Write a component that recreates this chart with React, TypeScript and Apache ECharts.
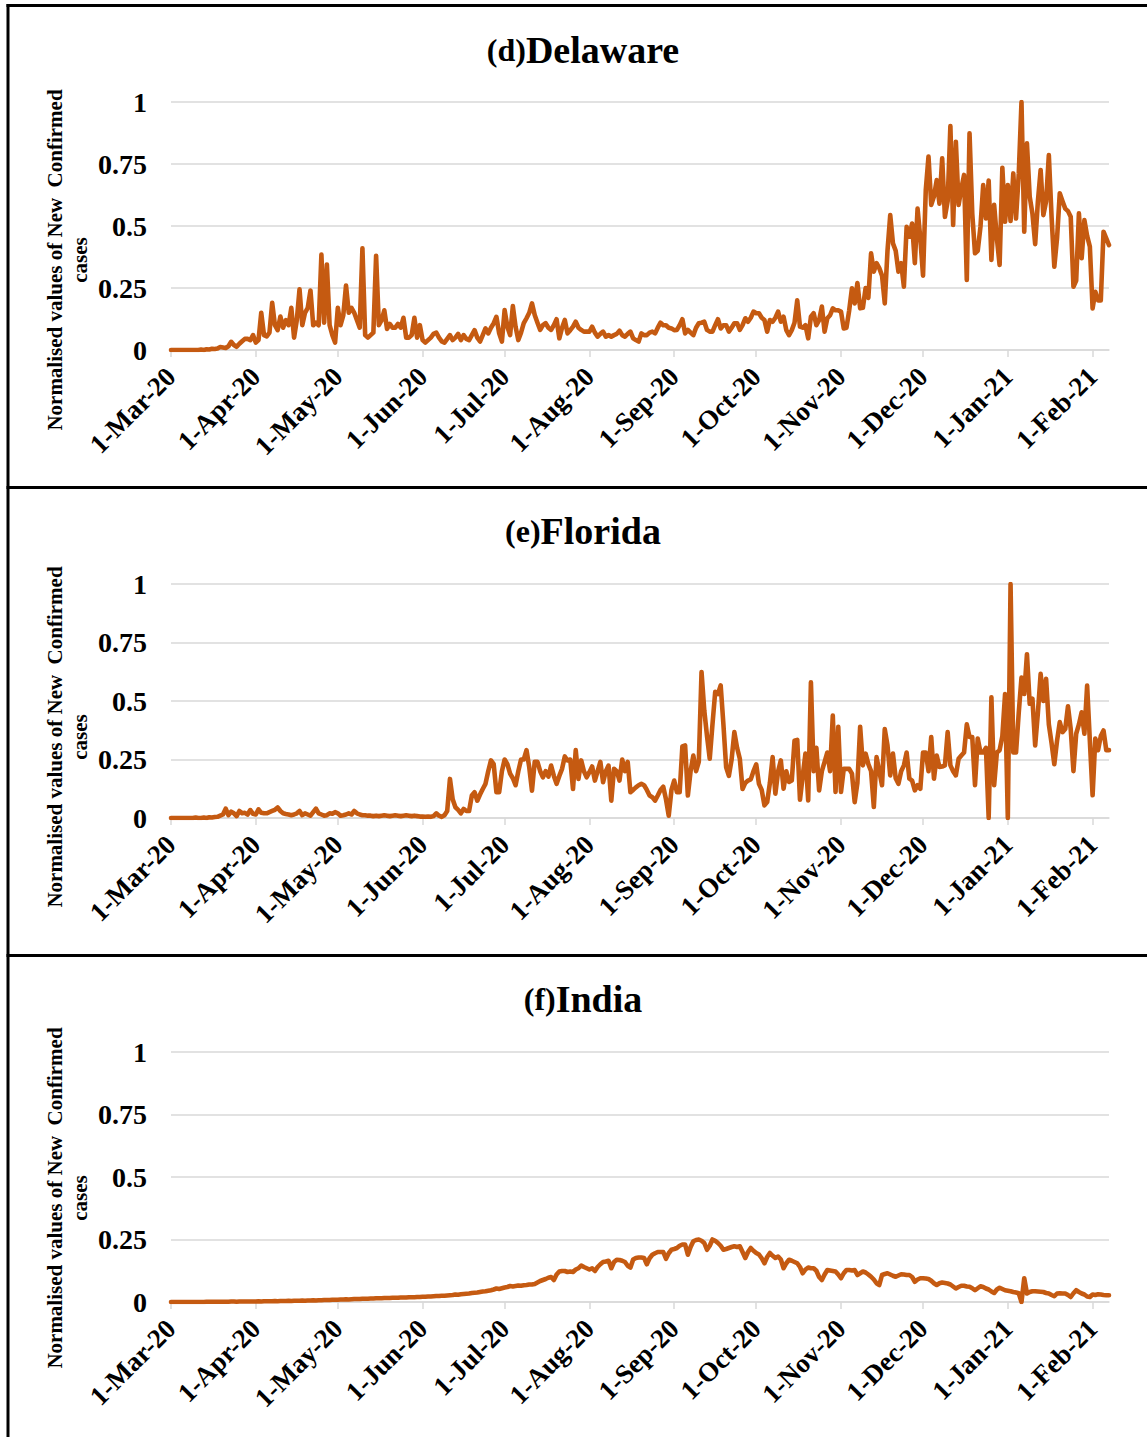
import React, { useEffect, useRef } from "react";
import * as echarts from "echarts";

// ---- Data (daily values, 1-Mar-20 .. 7-Feb-21), one line per month ----
const DELAWARE: number[] = [
  0,0,0,0,0,0,0,0,0,0, 0,0.002,0,0.003,0.002,0.005,0.004,0.006,0.012,0.01, 0.008,0.015,0.033,0.02,0.013,0.025,0.035,0.045,0.045,0.04, 0.06,
  0.03,0.04,0.15,0.06,0.055,0.07,0.19,0.1,0.08,0.135, 0.09,0.12,0.1,0.17,0.05,0.12,0.245,0.1,0.15,0.17, 0.24,0.1,0.11,0.1,0.385,0.11,0.345,0.1,0.06,0.03,
  0.17,0.1,0.14,0.26,0.15,0.17,0.15,0.12,0.09,0.41, 0.06,0.05,0.06,0.07,0.38,0.1,0.12,0.16,0.085,0.105, 0.09,0.09,0.105,0.09,0.13,0.05,0.05,0.06,0.13,0.05, 0.1,
  0.04,0.03,0.04,0.05,0.065,0.07,0.05,0.035,0.03,0.045, 0.06,0.04,0.05,0.065,0.04,0.06,0.045,0.04,0.06,0.08, 0.05,0.034,0.06,0.087,0.067,0.09,0.108,0.134,0.067,0.034,
  0.161,0.094,0.06,0.177,0.094,0.04,0.07,0.108,0.128,0.15, 0.188,0.141,0.11,0.081,0.1,0.108,0.09,0.081,0.1,0.124, 0.047,0.09,0.121,0.067,0.08,0.094,0.114,0.09,0.081,0.074, 0.074,
  0.074,0.094,0.07,0.054,0.065,0.074,0.054,0.06,0.054,0.06, 0.065,0.078,0.06,0.054,0.065,0.074,0.047,0.04,0.034,0.067, 0.06,0.06,0.07,0.074,0.067,0.09,0.11,0.1,0.1,0.09, 0.087,
  0.08,0.081,0.1,0.124,0.067,0.081,0.07,0.06,0.09,0.108, 0.11,0.114,0.081,0.074,0.074,0.1,0.124,0.087,0.1,0.1, 0.074,0.09,0.108,0.108,0.081,0.1,0.128,0.114,0.13,0.155,
  0.148,0.148,0.13,0.121,0.074,0.121,0.114,0.13,0.155,0.114, 0.134,0.08,0.06,0.08,0.11,0.2,0.094,0.09,0.1,0.047, 0.134,0.148,0.1,0.12,0.175,0.074,0.128,0.14,0.168,0.16, 0.16,
  0.155,0.087,0.09,0.16,0.249,0.188,0.27,0.168,0.17,0.25, 0.21,0.39,0.316,0.35,0.33,0.3,0.188,0.4,0.544,0.43, 0.4,0.316,0.35,0.255,0.497,0.457,0.51,0.35,0.57,0.45,
  0.3,0.645,0.78,0.585,0.62,0.685,0.59,0.773,0.537,0.6, 0.903,0.504,0.84,0.585,0.65,0.706,0.282,0.874,0.55,0.39, 0.4,0.497,0.665,0.53,0.683,0.363,0.585,0.45,0.343,0.735, 0.517,
  0.665,0.52,0.712,0.53,0.71,1.0,0.477,0.833,0.618,0.55, 0.427,0.6,0.726,0.544,0.6,0.786,0.537,0.336,0.45,0.632, 0.6,0.57,0.56,0.537,0.255,0.28,0.551,0.37,0.524,0.46, 0.417,
  0.168,0.235,0.2,0.2,0.477,0.45,0.423,
];

const FLORIDA: number[] = [
  0,0,0,0,0,0,0,0,0,0.002, 0,0,0.002,0,0.003,0.002,0.004,0.005,0.01,0.015, 0.04,0.012,0.027,0.02,0.008,0.03,0.02,0.022,0.015,0.034, 0.018,
  0.015,0.037,0.022,0.02,0.02,0.025,0.03,0.035,0.045,0.03, 0.02,0.017,0.015,0.012,0.015,0.02,0.03,0.012,0.02,0.015, 0.01,0.025,0.04,0.02,0.015,0.01,0.012,0.02,0.018,0.025,
  0.02,0.01,0.012,0.015,0.02,0.015,0.03,0.02,0.015,0.012, 0.012,0.01,0.01,0.008,0.01,0.008,0.01,0.012,0.01,0.008, 0.01,0.012,0.01,0.008,0.01,0.012,0.01,0.008,0.01,0.008, 0.006,
  0.006,0.005,0.006,0.005,0.008,0.02,0.01,0.005,0.012,0.03, 0.167,0.08,0.046,0.035,0.02,0.039,0.03,0.03,0.096,0.11, 0.074,0.1,0.124,0.146,0.2,0.246,0.23,0.11,0.11,0.2,
  0.25,0.23,0.19,0.17,0.14,0.2,0.25,0.25,0.29,0.217, 0.117,0.24,0.24,0.2,0.174,0.2,0.177,0.224,0.18,0.146, 0.18,0.21,0.263,0.246,0.25,0.124,0.29,0.167,0.246,0.2, 0.174,
  0.196,0.22,0.16,0.2,0.24,0.153,0.2,0.224,0.074,0.21, 0.2,0.16,0.25,0.2,0.24,0.11,0.12,0.131,0.14,0.146, 0.14,0.12,0.096,0.089,0.074,0.096,0.12,0.134,0.08,0.01, 0.12,
  0.16,0.11,0.11,0.306,0.31,0.096,0.2,0.267,0.2,0.24, 0.624,0.46,0.35,0.253,0.4,0.539,0.53,0.567,0.4,0.217, 0.18,0.25,0.367,0.3,0.253,0.124,0.15,0.16,0.165,0.2,
  0.229,0.146,0.12,0.054,0.068,0.15,0.26,0.104,0.2,0.246, 0.125,0.2,0.154,0.16,0.33,0.334,0.078,0.18,0.275,0.075, 0.58,0.2,0.3,0.118,0.2,0.24,0.28,0.2,0.438,0.111, 0.39,
  0.111,0.21,0.21,0.21,0.19,0.068,0.15,0.39,0.225,0.275, 0.23,0.2,0.047,0.26,0.2,0.14,0.38,0.31,0.182,0.275, 0.17,0.146,0.2,0.225,0.28,0.168,0.16,0.118,0.14,0.125,
  0.28,0.28,0.2,0.346,0.168,0.267,0.218,0.22,0.225,0.367, 0.225,0.2,0.182,0.253,0.267,0.28,0.4,0.346,0.346,0.14, 0.34,0.28,0.28,0.3,0.0,0.516,0.14,0.28,0.29,0.35, 0.53,
  0.0,1.0,0.28,0.28,0.45,0.6,0.53,0.7,0.488,0.51, 0.31,0.45,0.616,0.5,0.595,0.4,0.32,0.23,0.33,0.41, 0.367,0.38,0.477,0.38,0.2,0.36,0.4,0.452,0.36,0.566, 0.33,
  0.097,0.34,0.29,0.35,0.374,0.29,0.29,
];

const INDIA: number[] = [
  0,0,0,0,0,0,0,0,0,0, 0,0,0,0.001,0.001,0.001,0.001,0.001,0.001,0.001, 0.001,0.001,0.002,0.002,0.001,0.002,0.002,0.002,0.002,0.002, 0.002,
  0.002,0.003,0.002,0.003,0.003,0.003,0.003,0.004,0.003,0.004, 0.004,0.004,0.005,0.004,0.005,0.005,0.005,0.006,0.005,0.006, 0.006,0.007,0.006,0.007,0.007,0.008,0.008,0.008,0.009,0.009,
  0.009,0.01,0.01,0.011,0.01,0.011,0.012,0.012,0.012,0.013, 0.013,0.013,0.014,0.014,0.015,0.015,0.015,0.016,0.016,0.016, 0.017,0.017,0.017,0.018,0.018,0.018,0.019,0.019,0.019,0.02, 0.02,
  0.021,0.021,0.022,0.022,0.023,0.024,0.024,0.025,0.025,0.026, 0.027,0.028,0.03,0.029,0.031,0.032,0.033,0.034,0.036,0.037, 0.038,0.04,0.042,0.043,0.045,0.047,0.05,0.054,0.052,0.055,
  0.058,0.06,0.064,0.062,0.064,0.066,0.065,0.067,0.068,0.07, 0.07,0.072,0.078,0.084,0.088,0.092,0.097,0.1,0.088,0.11, 0.122,0.124,0.124,0.12,0.122,0.12,0.13,0.135,0.146,0.14, 0.135,
  0.13,0.135,0.124,0.14,0.151,0.16,0.162,0.165,0.135,0.16, 0.169,0.168,0.165,0.16,0.145,0.138,0.17,0.176,0.178,0.178, 0.176,0.151,0.175,0.189,0.195,0.2,0.2,0.2,0.173,0.195, 0.209,
  0.212,0.216,0.225,0.23,0.23,0.189,0.22,0.243,0.248,0.25, 0.245,0.236,0.209,0.225,0.25,0.245,0.236,0.225,0.209,0.212, 0.216,0.22,0.223,0.22,0.223,0.2,0.176,0.2,0.216,0.205,
  0.196,0.19,0.175,0.155,0.18,0.196,0.185,0.176,0.182,0.17, 0.135,0.155,0.169,0.165,0.16,0.155,0.14,0.115,0.13,0.138, 0.135,0.135,0.125,0.1,0.088,0.11,0.128,0.126,0.124,0.122, 0.11,
  0.095,0.115,0.128,0.128,0.126,0.128,0.108,0.115,0.122,0.118, 0.11,0.101,0.09,0.075,0.068,0.108,0.112,0.115,0.11,0.105, 0.101,0.106,0.111,0.11,0.108,0.108,0.1,0.081,0.09,0.095,
  0.095,0.094,0.092,0.085,0.075,0.068,0.075,0.078,0.076,0.074, 0.07,0.062,0.054,0.06,0.065,0.065,0.062,0.061,0.055,0.047, 0.055,0.063,0.06,0.054,0.05,0.042,0.036,0.05,0.057,0.052, 0.047,
  0.045,0.043,0.04,0.038,0.035,0.0,0.095,0.034,0.04,0.043, 0.043,0.042,0.041,0.04,0.036,0.034,0.028,0.023,0.034,0.035, 0.034,0.034,0.028,0.02,0.035,0.047,0.04,0.034,0.03,0.022, 0.02,
  0.03,0.028,0.031,0.03,0.028,0.027,0.027,
];

const PANEL_LABELS = ["(d)", "(e)", "(f)"];
const PANEL_NAMES = ["Delaware", "Florida", "India"];
const Y_TICKS = [0, 0.25, 0.5, 0.75, 1];
const MONTH_NAMES = ["Jan","Feb","Mar","Apr","May","Jun","Jul","Aug","Sep","Oct","Nov","Dec"];
const START_DATE = Date.UTC(2020, 2, 1);
const Y_NAME = "Normalised values of New  Confirmed\ncases";

const SERIES = [DELAWARE, FLORIDA, INDIA];

const LINE_COLOR = "#C55A11";
const GRID_COLOR = "#D9D9D9";
const FONT = "'Times New Roman', 'Liberation Serif', serif";

function dayLabel(i: number): string {
  const dt = new Date(START_DATE + i * 86400000);
  return `${dt.getUTCDate()}-${MONTH_NAMES[dt.getUTCMonth()]}-${String(dt.getUTCFullYear()).slice(2)}`;
}

// layout per panel
const LAYOUT = [
  { top: 102, height: 248, titleY: 50, nameY: 260, frameY: 5.5 },
  { top: 584, height: 234, titleY: 531, nameY: 737, frameY: 487.5 },
  { top: 1052, height: 250, titleY: 999, nameY: 1198, frameY: 955.5 },
];

export default function App() {
  const ref = useRef<HTMLDivElement>(null);

  useEffect(() => {
    if (!ref.current) return;
    const chart = echarts.init(ref.current, null, { renderer: "svg" });
    const n = Math.max(...SERIES.map((s) => s.length));
    const categories = Array.from({ length: n }, (_, i) => dayLabel(i));
    const isMonthStart = (_i: number, v: string) => String(v).startsWith("1-");

    const grids = LAYOUT.map((l) => ({ left: 171, right: 38, top: l.top, height: l.height }));
    const xAxes = LAYOUT.map((_, k) => ({
      type: "category",
      gridIndex: k,
      data: categories,
      boundaryGap: false,
      axisLine: { show: true, lineStyle: { color: GRID_COLOR, width: 1.5 } },
      axisTick: { show: true, interval: isMonthStart, length: 7, lineStyle: { color: GRID_COLOR, width: 1.5 } },
      axisLabel: {
        interval: isMonthStart,
        rotate: 45,
        margin: 22,
        color: "#000",
        fontFamily: FONT,
        fontWeight: "bold",
        fontSize: 27,
      },
      splitLine: { show: false },
    }));
    const yAxes = LAYOUT.map((_, k) => ({
      type: "value",
      gridIndex: k,
      min: Y_TICKS[0],
      max: Y_TICKS[Y_TICKS.length - 1],
      interval: 0.25,
      axisLine: { show: false },
      axisTick: { show: false },
      axisLabel: { margin: 24, color: "#000", fontFamily: FONT, fontWeight: "bold", fontSize: 28 },
      splitLine: { show: true, lineStyle: { color: GRID_COLOR, width: 1.5 } },
    }));
    const series = SERIES.map((data, k) => ({
      type: "line",
      xAxisIndex: k,
      yAxisIndex: k,
      data,
      showSymbol: false,
      symbol: "none",
      lineStyle: { color: LINE_COLOR, width: 4.6, join: "round", cap: "round" },
      itemStyle: { color: LINE_COLOR },
      z: 3,
    }));

    const graphics: any[] = [];
    LAYOUT.forEach((l, k) => {
      graphics.push({
        type: "text",
        x: 583,
        y: l.titleY,
        style: {
          text: `{a|${PANEL_LABELS[k]}}{b|${PANEL_NAMES[k]}}`,
          textAlign: "center",
          textVerticalAlign: "middle",
          fill: "#000",
          rich: {
            a: { fontFamily: FONT, fontWeight: "bold", fontSize: 32, fill: "#000" },
            b: { fontFamily: FONT, fontWeight: "bold", fontSize: 38, fill: "#000" },
          },
        },
      });
      graphics.push({
        type: "text",
        x: 67.5,
        y: l.nameY,
        rotation: Math.PI / 2,
        style: {
          text: Y_NAME,
          textAlign: "center",
          textVerticalAlign: "middle",
          fill: "#000",
          font: `bold 21px ${FONT}`,
          lineHeight: 25,
        },
      });
      graphics.push({
        type: "line",
        shape: { x1: 6.5, y1: l.frameY, x2: 1147, y2: l.frameY },
        style: { stroke: "#000", lineWidth: 3 },
      });
    });
    graphics.push({
      type: "line",
      shape: { x1: 8, y1: 4, x2: 8, y2: 1437 },
      style: { stroke: "#000", lineWidth: 3 },
    });

    chart.setOption({
      animation: false,
      backgroundColor: "#fff",
      grid: grids,
      xAxis: xAxes,
      yAxis: yAxes,
      series,
      graphic: graphics,
    });
    return () => chart.dispose();
  }, []);

  return (
    <div
      ref={ref}
      style={{ position: "absolute", left: 0, top: 0, width: 1147, height: 1437, background: "#fff" }}
    />
  );
}
